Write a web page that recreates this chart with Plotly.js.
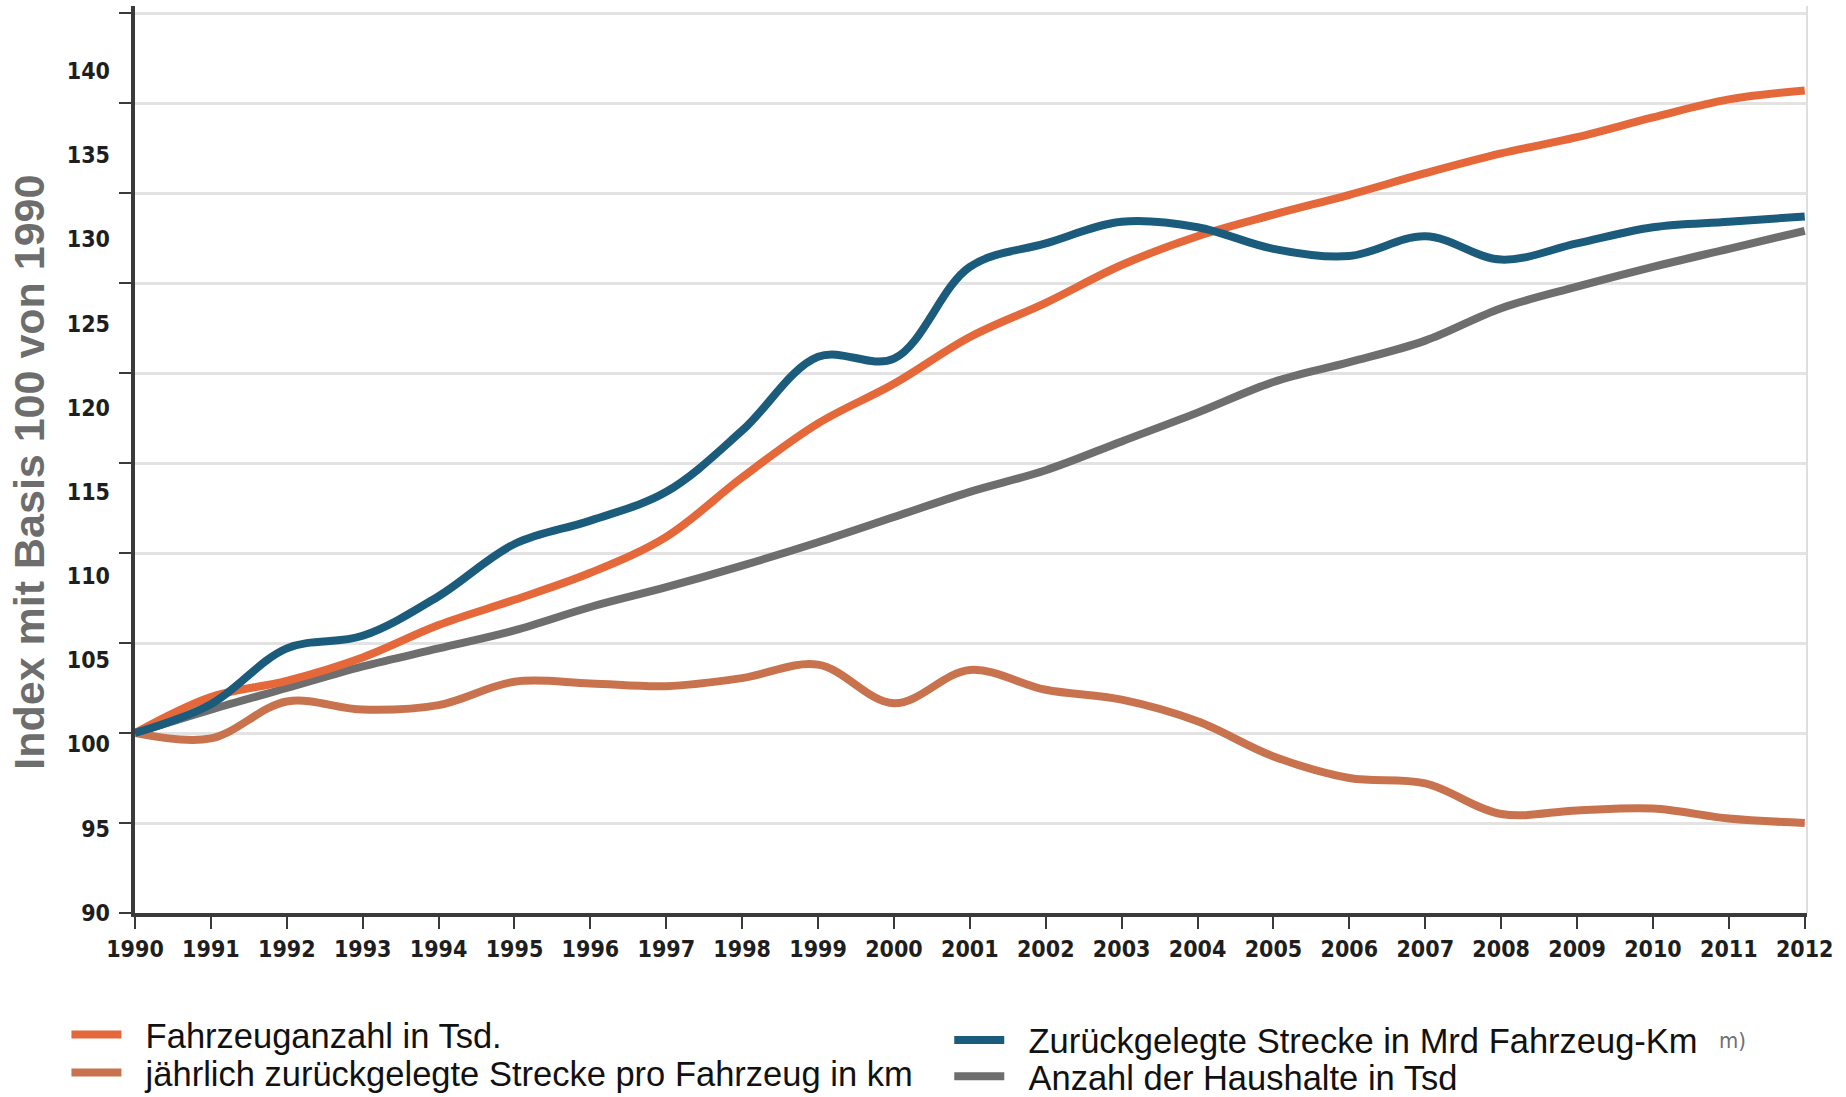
<!DOCTYPE html>
<html>
<head>
<meta charset="utf-8">
<script src="https://cdn.plot.ly/plotly-3.0.1.min.js"></script>
<style>
html,body{margin:0;padding:0;background:#ffffff;}
#chart{width:1846px;height:1097px;}
</style>
</head>
<body>
<div id="chart"></div>
<script>
// ---- data ----
const years = [1990,1991,1992,1993,1994,1995,1996,1997,1998,1999,2000,2001,2002,2003,2004,2005,2006,2007,2008,2009,2010,2011,2012];

const fahrzeuganzahl = [100,102.0,102.9,104.2,106.0,107.4,108.9,110.9,114.2,117.2,119.4,122.0,123.9,126.0,127.6,128.8,129.9,131.1,132.2,133.1,134.2,135.2,135.7];
const streckeProFahrzeug = [100,99.7,101.75,101.3,101.55,102.85,102.75,102.6,103.05,103.8,101.65,103.5,102.4,101.85,100.65,98.7,97.5,97.2,95.5,95.7,95.8,95.25,95.0];
const streckeGesamt = [100,101.6,104.7,105.4,107.6,110.5,111.8,113.4,116.8,120.9,120.8,125.9,127.2,128.4,128.1,126.9,126.5,127.6,126.3,127.2,128.1,128.4,128.7];
const haushalte = [100,101.3,102.5,103.7,104.7,105.7,107.0,108.1,109.3,110.6,112.0,113.4,114.6,116.2,117.8,119.5,120.6,121.8,123.6,124.8,125.9,126.9,127.9];

const yTickValues = [90,95,100,105,110,115,120,125,130,135,140];
const yTickLabels = ['90','95','100','105','110','115','120','125','130','135','140'];
const xTickLabels = years.map(String);

const nameFahrzeug = 'Fahrzeuganzahl in Tsd.';
const nameProFahrzeug = 'jährlich zurückgelegte Strecke pro Fahrzeug in km';
const nameGesamt = 'Zurückgelegte Strecke in Mrd Fahrzeug-Km';
const nameHaushalte = 'Anzahl der Haushalte in Tsd';
const yTitle = 'Index mit Basis 100 von 1990';

// ---- styles ----
const cOrange = '#e4683a';
const cBrown = '#c8734e';
const cBlue = '#1b5c7c';
const cGray = '#6e6e6e';
const axisColor = '#3a3a3a';
const condensed = "'DejaVu Sans Condensed', 'Liberation Sans Narrow', 'DejaVu Sans', sans-serif";
const tickFont = {family:condensed, size:23, color:'#1e1e1e', weight:700};
const legendFont = {family:"'Liberation Sans', Arial, sans-serif", size:34.5, color:'#111111'};
const gap = '\u00a0\u00a0';

function lineTrace(y, name, color, legendId){
  return {
    type:'scatter', mode:'lines', x:years, y:y, name:gap + name,
    line:{color:color, width:8, shape:'spline', smoothing:1},
    legend:legendId, hoverinfo:'skip'
  };
}

const data = [
  lineTrace(haushalte, nameHaushalte, cGray, 'legend4'),
  lineTrace(streckeProFahrzeug, nameProFahrzeug, cBrown, 'legend2'),
  lineTrace(fahrzeuganzahl, nameFahrzeug, cOrange, 'legend'),
  lineTrace(streckeGesamt, nameGesamt, cBlue, 'legend3'),
  // empty helper trace so the label axis (y2) is drawn
  {type:'scatter', mode:'none', x:[], y:[], yaxis:'y2', showlegend:false, hoverinfo:'skip'}
];

function legendAt(x, y){
  return {x:x, y:y, xanchor:'left', yanchor:'middle', orientation:'v',
          font:legendFont, itemwidth:50, bgcolor:'rgba(0,0,0,0)', borderwidth:0,
          itemclick:false, itemdoubleclick:false};
}

const layout = {
  width:1846, height:1097,
  margin:{l:135, r:39, t:6, b:184, pad:0, autoexpand:false},
  paper_bgcolor:'#ffffff', plot_bgcolor:'#ffffff',
  showlegend:true,
  xaxis:{
    range:[1990, 2012.03], tickvals:years, ticktext:xTickLabels,
    showgrid:false, zeroline:false,
    showline:true, linecolor:axisColor, linewidth:4,
    ticks:'outside', ticklen:12, tickwidth:2, tickcolor:axisColor,
    tickfont:tickFont, ticklabelstandoff:0, fixedrange:true
  },
  yaxis:{
    range:[90, 140.39], tickvals:yTickValues, showticklabels:false,
    showgrid:true, gridcolor:'#e3e3e3', gridwidth:3, zeroline:false,
    showline:true, linecolor:axisColor, linewidth:4,
    ticks:'outside', ticklen:12, tickwidth:2, tickcolor:axisColor, fixedrange:true
  },
  yaxis2:{
    overlaying:'y', side:'left', anchor:'x',
    range:[89.98, 143.86], tickvals:yTickValues, ticktext:yTickLabels,
    showgrid:false, zeroline:false, showline:false, ticks:'',
    tickfont:tickFont, ticklabelstandoff:24, fixedrange:true
  },
  legend: legendAt(-0.041, -0.134),
  legend2: legendAt(-0.041, -0.176),
  legend3: legendAt(0.487, -0.140),
  legend4: legendAt(0.487, -0.180),
  shapes:[
    {type:'line', xref:'paper', yref:'paper', x0:1, x1:1, y0:0, y1:1, line:{color:'#dedede', width:2}, layer:'below'}
  ],
  annotations:[
    {text:yTitle, xref:'paper', yref:'paper', x:-0.0631, y:0.486, xanchor:'center', yanchor:'middle',
     textangle:-90, showarrow:false,
     font:{family:"'Liberation Sans', Arial, sans-serif", size:43, color:'#6d6d6d', weight:700}},
    {text:'m)', xref:'paper', yref:'paper', x:0.9557, y:-0.141, xanchor:'center', yanchor:'middle',
     showarrow:false, font:{family:condensed, size:22, color:'#707070'}}
  ]
};

Plotly.newPlot('chart', data, layout, {displayModeBar:false, staticPlot:true});
</script>
</body>
</html>
